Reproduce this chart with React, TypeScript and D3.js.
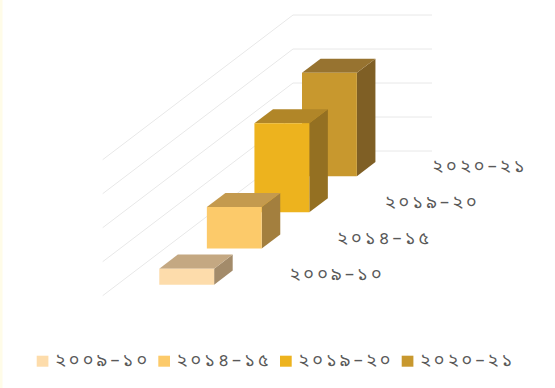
import React from "react";
import * as d3 from "d3";

const categories = ["২০০৯–১০", "২০১৪–১৫", "২০১৯–২০", "২০২০–২১"];
const values = [47, 122, 262, 304];
const valueTicks = [0, 100, 200, 300, 400];
const frontColors = ["#FDDCAB", "#FCCA6A", "#EDB31E", "#C8982E"];
const topColors = ["#C4A882", "#C49A4E", "#B18628", "#977330"];
const sideColors = ["#A38B6A", "#A37F3E", "#947022", "#7F5F25"];

const W = 555;
const H = 388;
const originX = 102.7;
const originY = 295.7;
const depthDX = 190.3;
const depthDY = 144.7;
const floorW = 139;

export default function App() {
  const depth = d3.scaleBand<string>().domain(categories).range([0, 1]).padding(0);
  const xBand = d3.scaleBand<string>().domain(["all"]).range([0, floorW]).padding(0.434);
  const v = d3.scaleLinear().domain([0, 400]).range([0, 136]);

  const proj = (x: number, d: number, val: number): [number, number] => [
    originX + x + d * depthDX,
    originY - d * depthDY - v(val),
  ];
  const pts = (arr: [number, number][]) => arr.map((p) => p.join(",")).join(" ");

  const barDepth = depth.bandwidth() * 0.39;
  const x0 = xBand("all")!;
  const x1 = x0 + xBand.bandwidth();

  const bars = categories.map((c, i) => {
    const dc = depth(c)! + depth.bandwidth() / 2;
    const d0 = dc - barDepth / 2;
    const d1 = dc + barDepth / 2;
    const val = values[i];
    const front = [proj(x0, d0, 0), proj(x1, d0, 0), proj(x1, d0, val), proj(x0, d0, val)] as [number, number][];
    const top = [proj(x0, d0, val), proj(x1, d0, val), proj(x1, d1, val), proj(x0, d1, val)] as [number, number][];
    const side = [proj(x1, d0, 0), proj(x1, d1, 0), proj(x1, d1, val), proj(x1, d0, val)] as [number, number][];
    return { c, i, front, top, side };
  });

  const textStyle: React.CSSProperties = {
    fontFamily: "'Noto Sans Bengali', 'Noto Sans', sans-serif",
    fontSize: 18,
    letterSpacing: 3.2,
  };

  const legendX = [36.7, 158.3, 280, 401.7];

  return (
    <div style={{ position: "fixed", left: 0, top: 0 }}>
      <svg width={W} height={H} style={{ display: "block", background: "#fff" }}>
        <rect x={0} y={0} width={2.5} height={H} fill="#FFFCE8" />
        {valueTicks.map((t) => {
          const a = proj(0, 0, t);
          const b = proj(0, 1, t);
          const c = proj(floorW, 1, t);
          return (
            <polyline key={t} points={pts([a, b, c])} fill="none" stroke="#E8E8E8" strokeWidth={1} />
          );
        })}
        {[...bars].reverse().map((b) => (
          <g key={b.c}>
            <polygon points={pts(b.side)} fill={sideColors[b.i]} />
            <polygon points={pts(b.top)} fill={topColors[b.i]} />
            <polygon points={pts(b.front)} fill={frontColors[b.i]} />
          </g>
        ))}
        {categories.map((c) => {
          const dc = depth(c)! + depth.bandwidth() / 2;
          const [px, py] = proj(floorW, dc, 0);
          return (
            <text key={c} x={px + 24} y={py - 2.5} dominantBaseline="central" fill="#595959" style={textStyle}>
              {c}
            </text>
          );
        })}
        {categories.map((c, i) => (
          <g key={"lg" + c}>
            <rect x={legendX[i]} y={355.7} width={11.7} height={11} fill={frontColors[i]} />
            <text x={legendX[i] + 18.3} y={361} dominantBaseline="central" fill="#595959" style={textStyle}>
              {c}
            </text>
          </g>
        ))}
      </svg>
    </div>
  );
}
